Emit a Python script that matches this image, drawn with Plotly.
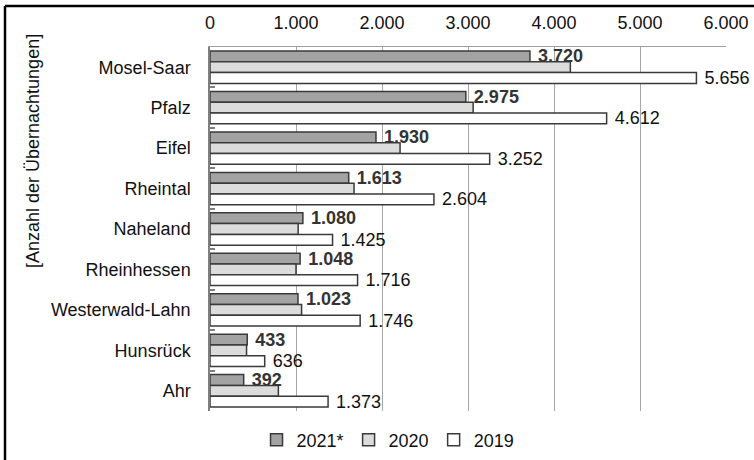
import plotly.graph_objects as go

# Overnight stays per region (in thousands), three reporting years
regions = ["Mosel-Saar", "Pfalz", "Eifel", "Rheintal", "Naheland",
           "Rheinhessen", "Westerwald-Lahn", "Hunsrück", "Ahr"]
values_2021 = [3720, 2975, 1930, 1613, 1080, 1048, 1023, 433, 392]
values_2020 = [4190, 3060, 2210, 1675, 1025, 1000, 1065, 425, 795]
values_2019 = [5656, 4612, 3252, 2604, 1425, 1716, 1746, 636, 1373]

x_ticks = [0, 1000, 2000, 3000, 4000, 5000, 6000]

FONT = "Liberation Sans, Arial, sans-serif"
FS = 18
EDGE = "#3a3a3a"
LABEL = "\u00a0%{x:,d}"  # small gap between bar end and value

fig = go.Figure()

fig.add_trace(go.Bar(
    name="2021*", y=regions, x=values_2021, orientation="h",
    marker=dict(color="#a3a3a3", line=dict(color=EDGE, width=1.5)),
    texttemplate=LABEL, textposition="outside", cliponaxis=False,
    constraintext="none",
    textfont=dict(family=FONT, size=FS, color="#333333", weight="bold"),
))
fig.add_trace(go.Bar(
    name="2020", y=regions, x=values_2020, orientation="h",
    marker=dict(color="#dcdcdc", line=dict(color=EDGE, width=1.5)),
))
fig.add_trace(go.Bar(
    name="2019", y=regions, x=values_2019, orientation="h",
    marker=dict(color="#ffffff", line=dict(color=EDGE, width=1.5)),
    texttemplate=LABEL, textposition="outside", cliponaxis=False,
    constraintext="none",
    textfont=dict(family=FONT, size=FS, color="#111111"),
))

fig.update_layout(
    width=754, height=460,
    margin=dict(l=210, r=28, t=47, b=49, autoexpand=False),
    paper_bgcolor="white", plot_bgcolor="white",
    separators=",.",
    barmode="group", bargap=0.2, bargroupgap=0,
    font=dict(family=FONT, size=FS, color="#111111"),
    showlegend=True,
    legend=dict(orientation="h", x=0.345, xanchor="center",
                y=-0.08, yanchor="middle",
                font=dict(family=FONT, size=FS, color="#111111"),
                itemwidth=30, traceorder="normal"),
)

fig.update_xaxes(
    side="top", range=[0, 6000], tickvals=x_ticks, tickformat=",d",
    showgrid=True, gridcolor="#a6a6a6", gridwidth=1,
    showline=True, linecolor="#a0a0a0", linewidth=1,
    ticks="", ticklabelstandoff=10, zeroline=False, automargin=False,
)
fig.update_yaxes(
    autorange="reversed", tickson="boundaries",
    ticks="inside", ticklen=5, tickcolor="#7f7f7f", tickwidth=1.5,
    showline=True, linecolor="#7f7f7f", linewidth=1.5,
    showgrid=False, ticklabelstandoff=14, automargin=False,
)

# Axis caption, set against the upper part of the frame
fig.add_annotation(
    text="[Anzahl der Übernachtungen]", textangle=-90,
    xref="paper", yref="paper",
    x=(33 - 210) / 516, y=(411 - 151) / 364,
    xanchor="center", yanchor="middle", showarrow=False,
    font=dict(family=FONT, size=FS, color="#111111"),
)

# Outer frame lines (left and top edges)
fig.add_shape(type="line", xref="paper", yref="paper",
              x0=(5 - 210) / 516, x1=(5 - 210) / 516,
              y0=(411 - 6) / 364, y1=(411 - 462) / 364,
              line=dict(color="#000000", width=2.5))
fig.add_shape(type="line", xref="paper", yref="paper",
              x0=(5 - 210) / 516, x1=(756 - 210) / 516,
              y0=(411 - 6) / 364, y1=(411 - 6) / 364,
              line=dict(color="#000000", width=2.5))

fig.write_html("out.html")
